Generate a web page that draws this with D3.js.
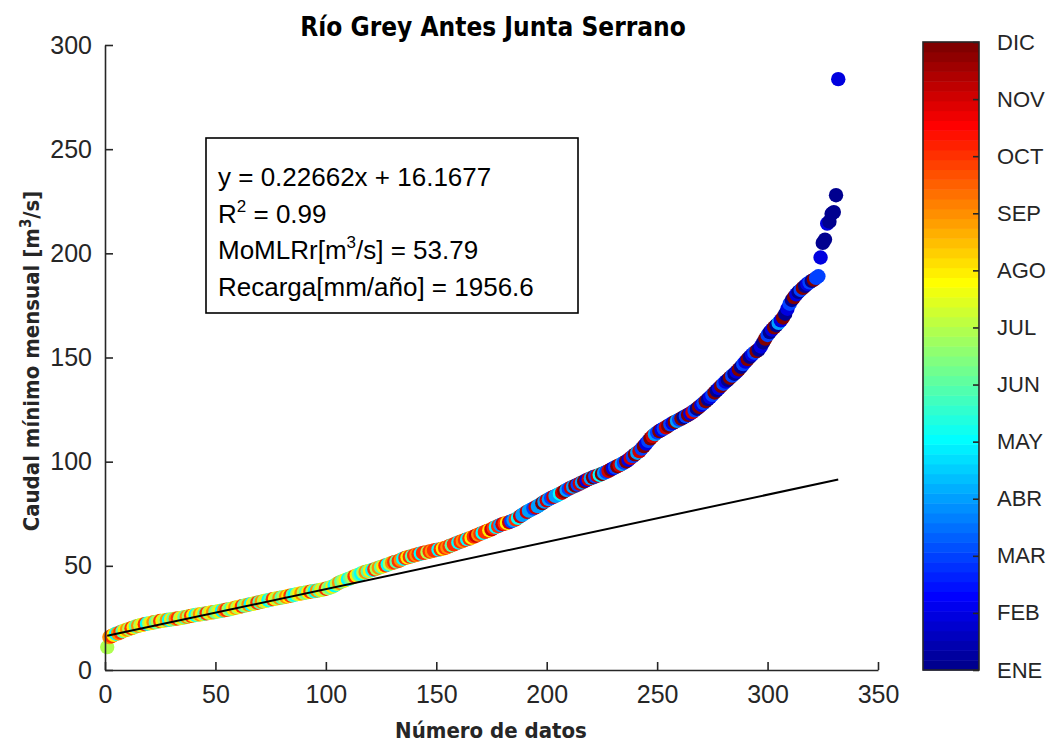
<!DOCTYPE html>
<html>
<head>
<meta charset="utf-8">
<script src="https://cdn.jsdelivr.net/npm/d3@7"></script>
<style>
  body { margin: 0; background: #fff; }
</style>
</head>
<body>
<script>
// caudal minimo mensual ordenado (m3/s), un valor por dato
const caudal = [
  11.0, 15.8, 16.3, 16.9, 17.4, 17.6, 18.1, 18.6, 19.0, 19.4,
  19.7, 20.1, 20.4, 20.9, 21.2, 21.5, 21.7, 22.0, 22.2, 22.4,
  22.6, 22.9, 23.0, 23.3, 23.5, 23.6, 23.8, 24.0, 24.1, 24.3,
  24.4, 24.6, 24.8, 24.9, 25.1, 25.3, 25.5, 25.8, 26.0, 26.2,
  26.4, 26.6, 26.7, 26.9, 27.0, 27.2, 27.4, 27.6, 27.7, 27.9,
  28.1, 28.3, 28.5, 28.7, 28.9, 29.1, 29.3, 29.6, 29.9, 30.1,
  30.4, 30.6, 30.9, 31.1, 31.4, 31.6, 31.8, 32.1, 32.3, 32.6,
  32.8, 33.1, 33.3, 33.5, 33.8, 34.0, 34.2, 34.4, 34.6, 34.8,
  35.0, 35.2, 35.5, 35.7, 35.9, 36.2, 36.4, 36.6, 36.8, 37.0,
  37.2, 37.4, 37.6, 37.8, 37.9, 38.1, 38.3, 38.5, 38.7, 39.0,
  39.3, 39.6, 40.0, 40.6, 41.3, 41.9, 42.4, 42.8, 43.2, 43.6,
  44.0, 44.5, 44.9, 45.4, 45.8, 46.3, 46.8, 47.1, 47.4, 47.7,
  48.0, 48.3, 48.7, 49.1, 49.5, 49.8, 50.2, 50.6, 51.0, 51.4,
  51.7, 52.0, 52.4, 52.9, 53.4, 53.8, 54.1, 54.4, 54.7, 55.0,
  55.3, 55.6, 55.9, 56.2, 56.4, 56.6, 56.9, 57.1, 57.4, 57.6,
  57.8, 58.0, 58.3, 58.6, 59.0, 59.5, 59.9, 60.3, 60.8, 61.2,
  61.6, 62.0, 62.4, 62.8, 63.1, 63.5, 64.0, 64.5, 65.0, 65.4,
  65.8, 66.3, 66.7, 67.1, 67.5, 68.2, 68.7, 69.1, 69.6, 70.0,
  70.3, 70.6, 71.0, 71.4, 71.8, 72.3, 73.0, 73.8, 74.5, 75.2,
  75.9, 76.5, 77.0, 77.6, 78.1, 78.7, 79.4, 80.1, 80.8, 81.4,
  82.0, 82.6, 83.1, 83.6, 84.1, 84.6, 85.1, 85.8, 86.4, 87.0,
  87.5, 88.0, 88.5, 89.0, 89.5, 90.0, 90.5, 91.1, 91.6, 92.1,
  92.5, 92.9, 93.3, 93.7, 94.1, 94.6, 95.1, 95.6, 96.2, 96.8,
  97.3, 97.8, 98.3, 98.9, 99.5, 100.1, 100.9, 101.8, 102.7, 103.5,
  104.3, 105.1, 106.3, 107.5, 108.7, 110.0, 111.2, 112.3, 113.2, 114.0,
  114.7, 115.3, 115.9, 116.5, 117.2, 117.9, 118.5, 119.1, 119.6, 120.2,
  120.7, 121.3, 121.9, 122.5, 123.1, 123.8, 124.6, 125.4, 126.3, 127.2,
  128.1, 129.0, 130.0, 131.0, 132.1, 133.2, 134.2, 135.3, 136.4, 137.4,
  138.4, 139.3, 140.3, 141.3, 142.2, 143.2, 144.3, 145.5, 146.8, 148.0,
  149.2, 150.3, 151.4, 152.3, 153.1, 153.8, 155.3, 157.2, 159.1, 160.8,
  162.2, 163.4, 164.5, 165.5, 166.6, 167.8, 169.2, 171.0, 173.4, 175.8,
  177.6, 179.0, 180.3, 181.5, 182.4, 183.4, 184.4, 185.3, 186.1, 186.8,
  187.4, 188.2, 189.0, 198.0, 205.0, 206.6, 214.3, 215.2, 219.0, 219.8, 227.9, 283.6
]

// mes de cada dato (1 = ENE ... 12 = DIC)
const mes = [
  7, 9, 10, 8, 5, 9, 10, 6, 8, 9,
  7, 10, 8, 6, 9, 7, 8, 10, 5, 7,
  8, 9, 6, 7, 10, 8, 7, 9, 5, 8,
  6, 9, 10, 7, 8, 6, 9, 7, 10, 8,
  5, 7, 9, 8, 6, 10, 7, 8, 9, 6,
  7, 8, 5, 9, 10, 7, 6, 8, 9, 7,
  8, 10, 6, 7, 9, 5, 8, 7, 10, 6,
  9, 7, 8, 5, 6, 10, 8, 7, 9, 6,
  7, 9, 8, 10, 6, 5, 7, 8, 9, 7,
  6, 8, 10, 7, 5, 9, 6, 8, 7, 10,
  7, 6, 8, 5, 7, 9, 6, 7, 8, 5,
  6, 7, 10, 8, 6, 5, 7, 9, 6, 8,
  5, 10, 7, 9, 6, 8, 10, 5, 7, 9,
  10, 6, 10, 9, 5, 10, 8, 10, 6, 10,
  9, 10, 5, 10, 10, 7, 10, 9, 10, 10,
  5, 10, 8, 10, 9, 10, 6, 10, 10, 5,
  10, 9, 10, 5, 10, 8, 10, 11, 9, 10,
  5, 10, 10, 8, 11, 10, 5, 10, 4, 11,
  10, 8, 11, 3, 4, 10, 5, 11, 4, 4,
  11, 4, 4, 3, 11, 4, 4, 12, 4, 11,
  4, 3, 11, 4, 4, 5, 11, 12, 4, 3,
  11, 4, 12, 3, 11, 4, 12, 2, 11, 4,
  12, 3, 11, 5, 12, 4, 3, 11, 12, 2,
  3, 12, 11, 4, 3, 12, 2, 11, 3, 12,
  4, 11, 3, 12, 2, 3, 12, 11, 4, 3,
  12, 2, 3, 11, 12, 3, 2, 12, 4, 3,
  12, 1, 3, 12, 2, 11, 3, 1, 12, 2,
  3, 12, 1, 2, 3, 12, 1, 2, 12, 3,
  2, 1, 12, 3, 1, 2, 12, 1, 3, 2,
  12, 1, 2, 3, 12, 1, 2, 1, 12, 3,
  1, 2, 12, 1, 4, 2, 12, 1, 2, 3,
  1, 12, 2, 1, 3, 12, 1, 2, 3, 1,
  12, 3, 3, 2, 1, 1, 2, 1, 1, 1, 1, 2
]

const meses = ["ENE", "FEB", "MAR", "ABR", "MAY", "JUN", "JUL", "AGO", "SEP", "OCT", "NOV", "DIC"]
const xTicks = [0, 50, 100, 150, 200, 250, 300, 350]
const yTicks = [0, 50, 100, 150, 200, 250, 300]
const pendiente = 0.22662
const intercepto = 16.1677
const ajusteX = [1, 332]

const axisColor = "#262626"
const font = "'Liberation Sans', Arial, sans-serif"
const fontBold = "'Liberation Sans Narrow', 'DejaVu Sans Condensed', 'Liberation Sans', sans-serif"

// jet colormap like matlab, m levels
function jet(m) {
    const n = Math.ceil(m / 4)
    const u = []
    for (let i = 1; i <= n; i++) u.push(i / n)
    for (let i = 1; i < n; i++) u.push(1)
    for (let i = n; i >= 1; i--) u.push(i / n)
    const g0 = Math.ceil(n / 2) - (m % 4 === 1 ? 1 : 0)
    const J = d3.range(m).map(() => [0, 0, 0])
    u.forEach((v, k) => {
        const g = g0 + k + 1
        if (g >= 1 && g <= m) J[g - 1][1] = v
        if (g + n >= 1 && g + n <= m) J[g + n - 1][0] = v
        if (g - n >= 1 && g - n <= m) J[g - n - 1][2] = v
    })
    return J.map(c => d3.rgb(c[0] * 255, c[1] * 255, c[2] * 255).formatHex())
}
const cmap = jet(64)
const colorMes = (k) => cmap[Math.min(63, Math.floor((k - 1) / 11 * 64))]

const svg = d3.select("body")
    .append("svg")
    .attr("width", 1052)
    .attr("height", 742)
    .style("font-family", font)

const x = d3.scaleLinear().domain([0, 350]).range([105, 878])
const y = d3.scaleLinear().domain([0, 300]).range([670, 45])

// puntos
const datos = caudal.map((v, i) => ({ n: i + 1, q: v, m: mes[i] }))
svg.append("g")
    .selectAll("circle")
    .data(datos)
    .join("circle")
    .attr("cx", d => x(d.n))
    .attr("cy", d => y(d.q))
    .attr("r", 7.2)
    .attr("fill", d => colorMes(d.m))

// recta de ajuste
svg.append("path")
    .datum(ajusteX)
    .attr("d", d3.line().x(d => x(d)).y(d => y(pendiente * d + intercepto)))
    .attr("stroke", "#000")
    .attr("stroke-width", 2)
    .attr("fill", "none")

// ejes
const ax = svg.append("g")
    .attr("transform", "translate(0,670)")
    .call(d3.axisBottom(x).tickValues(xTicks).tickSize(-8).tickSizeOuter(0).tickPadding(15))
const ay = svg.append("g")
    .attr("transform", "translate(105,0)")
    .call(d3.axisLeft(y).tickValues(yTicks).tickSize(-8).tickSizeOuter(0).tickPadding(13))
for (const a of [ax, ay]) {
    a.select(".domain").attr("stroke", axisColor).attr("stroke-width", 1.6)
    a.selectAll(".tick line").attr("stroke", axisColor).attr("stroke-width", 1.6)
    a.selectAll(".tick text").attr("fill", axisColor).style("font-size", "25px").style("font-family", font)
}

// titulo y etiquetas
svg.append("text")
    .attr("x", 493).attr("y", 36)
    .attr("text-anchor", "middle")
    .style("font-family", fontBold).style("font-weight", "bold").style("font-size", "26px")
    .text("Río Grey Antes Junta Serrano")
svg.append("text")
    .attr("x", 491).attr("y", 738)
    .attr("text-anchor", "middle")
    .attr("fill", axisColor)
    .style("font-family", fontBold).style("font-weight", "bold").style("font-size", "22px")
    .text("Número de datos")
const yl = svg.append("text")
    .attr("transform", "translate(39,361) rotate(-90)")
    .attr("text-anchor", "middle")
    .attr("fill", axisColor)
    .style("font-family", fontBold).style("font-weight", "bold").style("font-size", "22px")
yl.append("tspan").text("Caudal mínimo mensual [m")
yl.append("tspan").attr("dy", -8).style("font-size", "15px").text("3")
yl.append("tspan").attr("dy", 8).text("/s]")

// cuadro de texto
svg.append("rect")
    .attr("x", 206).attr("y", 138).attr("width", 372).attr("height", 175)
    .attr("fill", "#fff").attr("stroke", "#000").attr("stroke-width", 1.6)
const lineas = [
    [["y = " + pendiente + "x + " + intercepto]],
    [["R"], ["2", "sup"], [" = 0.99"]],
    [["MoMLRr[m"], ["3", "sup"], ["/s] = 53.79"]],
    [["Recarga[mm/año] = 1956.6"]]
]
lineas.forEach((partes, i) => {
    const t = svg.append("text")
        .attr("x", 218).attr("y", 186 + i * 36.5)
        .style("font-size", "26px")
    partes.forEach(p => {
        const s = t.append("tspan").text(p[0])
        if (p[1] === "sup") s.attr("dy", -11).style("font-size", "17px")
        else if (t.selectAll("tspan").size() > 1) s.attr("dy", 11)
    })
})

// barra de colores
const yc = d3.scaleLinear().domain([1, 12]).range([670, 42])
svg.append("g")
    .selectAll("rect")
    .data(cmap)
    .join("rect")
    .attr("x", 923)
    .attr("width", 56)
    .attr("y", (_, i) => yc(1 + (i + 1) * 11 / 64))
    .attr("height", (_, i) => yc(1 + i * 11 / 64) - yc(1 + (i + 1) * 11 / 64) + 0.5)
    .attr("fill", d => d)
svg.append("rect")
    .attr("x", 923).attr("y", 42).attr("width", 56).attr("height", 628)
    .attr("fill", "none").attr("stroke", axisColor).attr("stroke-width", 1.6)
const ac = svg.append("g")
    .attr("transform", "translate(979,0)")
    .call(d3.axisRight(yc).tickValues(d3.range(1, 13)).tickFormat(d => meses[d - 1]).tickSize(-6).tickSizeOuter(0).tickPadding(18))
ac.select(".domain").remove()
ac.selectAll(".tick line").attr("stroke", axisColor).attr("stroke-width", 1.6)
ac.selectAll(".tick text").attr("fill", axisColor).style("font-size", "22px").style("font-family", font)
</script>
</body>
</html>
